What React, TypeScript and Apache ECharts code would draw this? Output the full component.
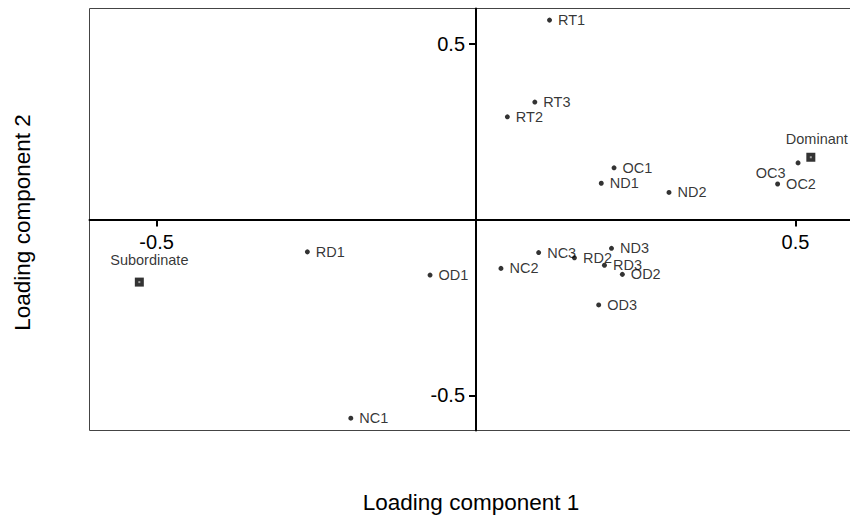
import React, { useEffect, useRef } from "react";
import * as echarts from "echarts";

const pointNames = ["RT1", "RT2", "RT3", "OC1", "OC2", "OC3", "ND1", "ND2", "ND3", "NC1", "NC2", "NC3", "RD1", "RD2", "RD3", "OD1", "OD2", "OD3"];
const component1 = [0.115, 0.049, 0.092, 0.216, 0.472, 0.504, 0.196, 0.302, 0.212, -0.196, 0.039, 0.098, -0.264, 0.154, 0.201, -0.072, 0.229, 0.192];
const component2 = [0.567, 0.292, 0.334, 0.147, 0.101, 0.161, 0.103, 0.077, -0.082, -0.565, -0.139, -0.094, -0.092, -0.109, -0.13, -0.158, -0.156, -0.243];

const groupNames = ["Dominant", "Subordinate"];
const group1 = [0.524, -0.527];
const group2 = [0.177, -0.178];

const xTicks = [-0.5, 0.5];
const yTicks = [-0.5, 0.5];

const FONT = "'Liberation Sans', Arial, Helvetica, sans-serif";

export default function App() {
  const ref = useRef<HTMLDivElement>(null);

  useEffect(() => {
    if (!ref.current) return;
    const chart = echarts.init(ref.current, null, { renderer: "svg" });

    const gridLeft = 89.5;
    const gridTop = 8.5;
    const gridWidth = 763.5;
    const gridHeight = 422;
    const xMin = -0.605;
    const xMax = 0.59;
    const yMin = -0.6;
    const yMax = 0.6;
    // place axes through the origin (distance from grid edge to zero)
    const yAxisOffset = -((0 - xMin) / (xMax - xMin)) * gridWidth;
    const xAxisOffset = -((0 - yMin) / (yMax - yMin)) * gridHeight;

    const pointData = pointNames.map((n, i) => {
      const item: any = { name: n, value: [component1[i], component2[i]] };
      if (n === "OC3") {
        item.label = { position: "left", distance: 10, offset: [0, 10] };
      }
      return item;
    });

    const groupOffsets: Record<string, number[]> = {
      Dominant: [6, -18],
      Subordinate: [10, -22],
    };
    const groupData = groupNames.map((n, i) => ({
      name: n,
      value: [group1[i], group2[i]],
      label: { offset: groupOffsets[n] },
    }));

    chart.setOption({
      animation: false,
      backgroundColor: "#ffffff",
      textStyle: { fontFamily: FONT },
      grid: {
        left: gridLeft,
        top: gridTop,
        width: gridWidth,
        height: gridHeight,
        show: true,
        borderColor: "#444",
        borderWidth: 1,
        containLabel: false,
        outerBoundsMode: "none",
      },
      xAxis: {
        type: "value",
        position: "bottom",
        offset: xAxisOffset,
        min: xMin,
        max: xMax,
        splitLine: { show: false },
        axisLine: { show: true, onZero: false, lineStyle: { color: "#000", width: 2 } },
        axisTick: { show: true, customValues: xTicks, length: 7, lineStyle: { color: "#000", width: 2 } },
        axisLabel: {
          show: true,
          customValues: xTicks,
          fontSize: 20,
          color: "#000",
          margin: 12,
          fontFamily: FONT,
        },
      },
      yAxis: {
        type: "value",
        position: "left",
        offset: yAxisOffset,
        min: yMin,
        max: yMax,
        splitLine: { show: false },
        axisLine: { show: true, onZero: false, lineStyle: { color: "#000", width: 2 } },
        axisTick: { show: true, customValues: yTicks, length: 7, lineStyle: { color: "#000", width: 2 } },
        axisLabel: {
          show: true,
          customValues: yTicks,
          fontSize: 20,
          color: "#000",
          margin: 11,
          fontFamily: FONT,
        },
      },
      series: [
        {
          type: "scatter",
          name: "items",
          symbol: "circle",
          symbolSize: 5,
          itemStyle: { color: "#000" },
          label: {
            show: true,
            position: "right",
            distance: 6,
            formatter: "{b}",
            fontSize: 14.5,
            color: "#000",
            fontFamily: FONT,
          },
          data: pointData,
        },
        {
          type: "scatter",
          name: "groups",
          symbol: "rect",
          symbolSize: 9,
          itemStyle: { color: "#000" },
          label: {
            show: true,
            position: "inside",
            formatter: "{b}",
            fontSize: 14.5,
            color: "#000",
            fontFamily: FONT,
          },
          data: groupData,
        },
        {
          type: "scatter",
          name: "groupCentres",
          symbol: "rect",
          symbolSize: 2,
          silent: true,
          itemStyle: { color: "#bbb" },
          data: groupNames.map((n, i) => ({ name: n, value: [group1[i], group2[i]] })),
        },
      ],
      graphic: [
        {
          type: "text",
          x: 471,
          y: 502,
          style: {
            text: "Loading component 1",
            fontSize: 22.5,
            fontFamily: FONT,
            fill: "#000",
            align: "center",
            verticalAlign: "middle",
          },
        },
        {
          type: "text",
          x: 22,
          y: 222.5,
          rotation: Math.PI / 2,
          style: {
            text: "Loading component 2",
            fontSize: 22.5,
            fontFamily: FONT,
            fill: "#000",
            align: "center",
            verticalAlign: "middle",
          },
        },
      ],
    });

    return () => {
      chart.dispose();
    };
  }, []);

  return (
    <div
      ref={ref}
      style={{ position: "absolute", left: 0, top: 0, width: 850, height: 518, background: "#fff" }}
    />
  );
}
